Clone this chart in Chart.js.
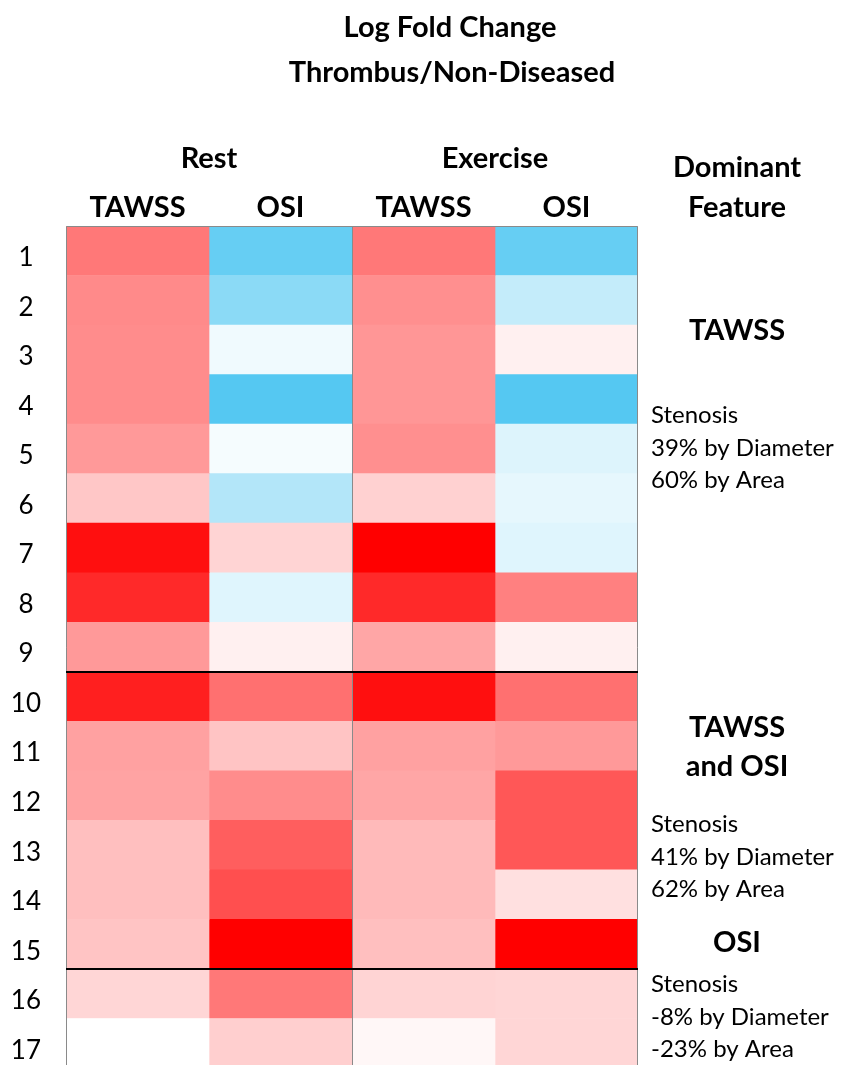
<!DOCTYPE html>
<html>
<head>
<meta charset="utf-8">
<script src="https://cdn.jsdelivr.net/npm/chart.js@4.4.1/dist/chart.umd.min.js"></script>
<style>
  html, body { margin: 0; padding: 0; background: #fff; overflow: hidden; }
</style>
</head>
<body>
<canvas id="heat" width="845" height="1068"></canvas>
<script>
const rows = ["1", "2", "3", "4", "5", "6", "7", "8", "9", "10", "11", "12", "13", "14", "15", "16", "17"];
const conditions = ["Rest", "Exercise"];
const metrics = ["TAWSS", "OSI", "TAWSS", "OSI"];

// log fold change (scaled, +1 = full red, -1 = full blue)
const restTawss     = [0.53, 0.46, 0.45, 0.45, 0.40, 0.22, 0.94, 0.84, 0.40, 0.88, 0.37, 0.36, 0.25, 0.25, 0.23, 0.16, 0.00];
const restOsi       = [-0.90, -0.68, -0.09, -1.00, -0.06, -0.45, 0.17, -0.19, 0.06, 0.56, 0.23, 0.45, 0.63, 0.69, 1.00, 0.53, 0.19];
const exerciseTawss = [0.53, 0.44, 0.41, 0.41, 0.44, 0.18, 1.00, 0.84, 0.35, 0.94, 0.37, 0.35, 0.27, 0.27, 0.25, 0.17, 0.03];
const exerciseOsi   = [-0.90, -0.35, 0.06, -1.00, -0.20, -0.15, -0.19, 0.50, 0.06, 0.56, 0.40, 0.66, 0.66, 0.12, 1.00, 0.16, 0.16];

const groupEnds = [9, 15]; // thick line under these rows

const groups = [
  { title: ["TAWSS"], stenosis: ["Stenosis", "39% by Diameter", "60% by Area"] },
  { title: ["TAWSS", "and OSI"], stenosis: ["Stenosis", "41% by Diameter", "62% by Area"] },
  { title: ["OSI"], stenosis: ["Stenosis", "-8% by Diameter", "-23% by Area"] }
];

const columnValues = [restTawss, restOsi, exerciseTawss, exerciseOsi];

function cellColor(v) {
  const t = Math.min(Math.abs(v), 1);
  if (v >= 0) {
    const g = Math.round(255 * (1 - t));
    return `rgb(255,${g},${g})`;
  }
  return `rgb(${Math.round(255 - 170 * t)},${Math.round(255 - 55 * t)},${Math.round(255 - 13 * t)})`;
}

const bold = "bold 29px Lato";
const plain = "24px Lato";

const textPlugin = {
  id: "heatText",
  afterDraw(chart) {
    const { ctx, chartArea: a, scales: { x, y } } = chart;
    ctx.save();

    // outer border and rest / exercise divider
    ctx.strokeStyle = "#8a8a8a";
    ctx.lineWidth = 1;
    ctx.beginPath();
    ctx.moveTo(a.left + 0.5, a.bottom);
    ctx.lineTo(a.left + 0.5, a.top + 0.5);
    ctx.lineTo(a.right - 0.5, a.top + 0.5);
    ctx.lineTo(a.right - 0.5, a.bottom);
    const mid = Math.round(x.getPixelForValue(2)) + 0.5;
    ctx.moveTo(mid, a.top);
    ctx.lineTo(mid, a.bottom);
    ctx.stroke();

    // group separators
    ctx.strokeStyle = "#000";
    ctx.lineWidth = 2;
    groupEnds.forEach(r => {
      const py = Math.round((y.getPixelForValue(r - 1) + y.getPixelForValue(r)) / 2);
      ctx.beginPath();
      ctx.moveTo(a.left, py);
      ctx.lineTo(a.right, py);
      ctx.stroke();
    });

    ctx.fillStyle = "#000";
    ctx.textAlign = "center";
    ctx.textBaseline = "alphabetic";
    ctx.font = bold;
    ctx.fillText("Log Fold Change", 450, 37);
    ctx.fillText("Thrombus/Non-Diseased", 452, 82);

    conditions.forEach((c, i) => ctx.fillText(c, x.getPixelForValue(i * 2 + 1), 168));
    metrics.forEach((m, i) => ctx.fillText(m, x.getPixelForValue(i + 0.5), 217));

    const cx = 737;
    ctx.fillText("Dominant", cx, 177);
    ctx.fillText("Feature", cx, 217);

    const titleY = [[340], [737, 776], [952]];
    const stenY = [423, 832, 992];
    groups.forEach((g, gi) => {
      ctx.font = bold;
      ctx.textAlign = "center";
      g.title.forEach((t, k) => ctx.fillText(t, cx, titleY[gi][k]));
      ctx.font = plain;
      ctx.textAlign = "left";
      g.stenosis.forEach((t, k) => ctx.fillText(t, 651, stenY[gi] + k * 32.5));
    });
    ctx.restore();
  }
};

new Chart(document.getElementById("heat"), {
  type: "bar",
  data: {
    labels: rows,
    datasets: columnValues.map((vals, c) => ({
      data: rows.map(() => [c, c + 1]),
      backgroundColor: vals.map(cellColor),
      borderWidth: 0,
      barPercentage: 1,
      categoryPercentage: 1,
      grouped: false
    }))
  },
  options: {
    indexAxis: "y",
    responsive: false,
    animation: false,
    layout: { padding: { top: 226, right: 207, bottom: 0, left: 0 } },
    plugins: { legend: { display: false }, tooltip: { enabled: false } },
    scales: {
      x: { type: "linear", min: 0, max: 4, display: false },
      y: {
        type: "category",
        offset: true,
        grid: { display: false, drawTicks: false },
        border: { display: false },
        afterFit: s => {
          s.width = 66;
          s.paddingTop = 0;
          s.paddingBottom = 0;
        },
        ticks: {
          color: "#000",
          font: { family: "Lato", size: 26 },
          crossAlign: "center",
          padding: 25,
          labelOffset: 7
        }
      }
    }
  },
  plugins: [textPlugin]
});
</script>
</body>
</html>
